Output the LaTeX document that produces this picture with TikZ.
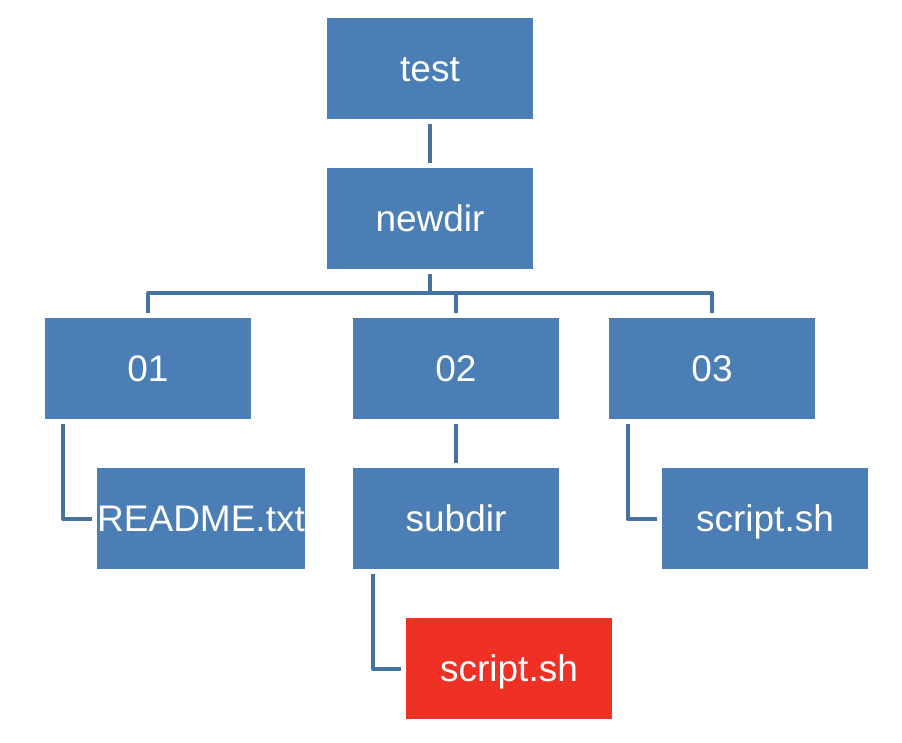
\documentclass[tikz,border=0pt]{standalone}
\usepackage{fontspec}
\setmainfont{Liberation Sans}
\usetikzlibrary{calc}
\definecolor{boxblue}{HTML}{4A7EB4}
\definecolor{lineblue}{HTML}{44739F}
\definecolor{boxred}{HTML}{EE3124}
\begin{document}
\begin{tikzpicture}[x=1pt,y=-1pt,
  box/.style={fill=boxblue, minimum width=206pt, minimum height=101pt, inner sep=0pt,
    text=white, font=\fontsize{37}{44}\selectfont, text height=26.5pt, text depth=0pt},
  redbox/.style={box, fill=boxred},
  link/.style={draw=lineblue, line width=4pt, line join=round}]
\useasboundingbox (0,0) rectangle (902,742);
\node[box] (test) at (430,68.5) {test};
\node[box] (newdir) at (430,218.5) {newdir};
\node[box] (n01) at (148,368.5) {01};
\node[box] (n02) at (456,368.5) {02};
\node[box] (n03) at (712,368.5) {03};
\node[box] (readme) at (201,518.5) {README.txt};
\node[box] (subdir) at (456,518.5) {subdir};
\node[box] (script3) at (765,518.5) {script.sh};
\node[redbox] (scriptred) at (509,668.5) {script.sh};
\draw[link] ([yshift=-5pt]test.south) -- ([yshift=5pt]newdir.north);
\draw[link] ([yshift=-5pt]newdir.south) -- ($(newdir.south)+(0,24)$) -| ([yshift=5pt]n01.north);
\draw[link] ([yshift=-5pt]newdir.south) -- ($(newdir.south)+(0,24)$) -| ([yshift=5pt]n02.north);
\draw[link] ([yshift=-5pt]newdir.south) -- ($(newdir.south)+(0,24)$) -| ([yshift=5pt]n03.north);
\draw[link] ([xshift=18pt,yshift=-5pt]n01.south west) |- ([xshift=-5pt]readme.west);
\draw[link] ([yshift=-5pt]n02.south) -- ([yshift=5pt]subdir.north);
\draw[link] ([xshift=19pt,yshift=-5pt]n03.south west) |- ([xshift=-5pt]script3.west);
\draw[link] ([xshift=20pt,yshift=-5pt]subdir.south west) |- ([xshift=-5pt]scriptred.west);
\end{tikzpicture}
\end{document}
